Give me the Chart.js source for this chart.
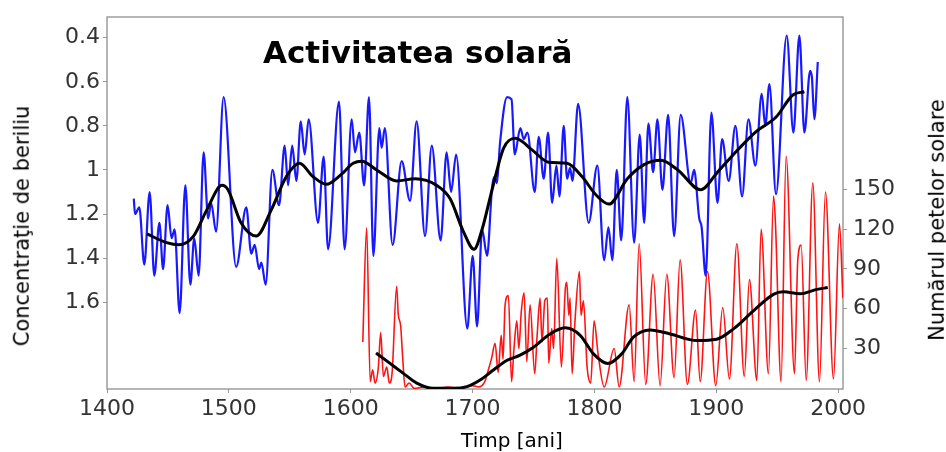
<!DOCTYPE html>
<html><head><meta charset="utf-8">
<script src="https://cdn.jsdelivr.net/npm/chart.js@4/dist/chart.umd.min.js"></script>
<style>
html,body{margin:0;padding:0;background:#fff;}
#wrap{position:relative;width:946px;height:452px;overflow:hidden;}
canvas{position:absolute;left:0;top:0;}
.t{position:absolute;white-space:nowrap;font-family:"DejaVu Sans";color:#000;line-height:1.164;}
</style></head><body>
<div id="wrap">
<canvas id="c" width="946" height="452"></canvas>
<div class="t" style="left:263px;top:34px;font-size:31px;font-weight:bold;">Activitatea solară</div>
<div class="t" style="left:512px;top:429px;font-size:20px;transform:translateX(-50%);">Timp [ani]</div>
<div class="t" style="left:22px;top:226px;font-size:21px;transform:translate(-50%,-50%) rotate(-90deg);">Concentraţie de beriliu</div>
<div class="t" style="left:937px;top:220px;font-size:21px;transform:translate(-50%,-50%) rotate(-90deg);">Numărul petelor solare</div>
</div>
<script>
const xTickValues = [1400,1500,1600,1700,1800,1900,2000];
const leftTickValues = [0.4,0.6,0.8,1,1.2,1.4,1.6];
const rightTickValues = [30,60,90,120,150];

const berylYears = [1422,1423,1426.5,1430.6,1435,1438.8,1443,1446,1449.7,1453,1455.5,1459.6,1464.3,1468.4,1471.6,1475.2,1479.3,1483,1485.5,1489.5,1495.7,1506,1514.3,1518.4,1521.2,1524.8,1526.7,1530.2,1535.7,1541.2,1545.8,1548.6,1552,1555.4,1559,1562.2,1565.5,1573.2,1577.8,1581.4,1590.4,1595,1600.8,1603.5,1607,1611,1615,1618.6,1623.5,1625.4,1628,1634.4,1641.8,1648.7,1654.1,1661,1666.5,1673.8,1678.7,1682.4,1686.5,1695.7,1700.1,1703.7,1707.8,1711.9,1716,1718,1720,1722.5,1728.3,1732,1734.6,1739.2,1742,1745,1751,1754.3,1758.4,1762,1765.3,1768.8,1771.3,1774.8,1777.6,1780,1782,1786.6,1795.3,1802.4,1808,1811.5,1814.7,1818.3,1822,1827,1832.6,1837.2,1840.8,1844.3,1848.2,1851.7,1855.8,1860.5,1865.4,1870.8,1879,1881.8,1886,1888,1891.3,1896,1901,1904.8,1910.2,1915.7,1921.2,1926.4,1932.1,1937.3,1940.2,1943.6,1949,1957.8,1963.3,1968.2,1972.3,1977,1978.5,1980.5,1983.3];
const berylValues = [1.13,1.20,1.17,1.43,1.10,1.48,1.24,1.45,1.16,1.31,1.27,1.65,1.07,1.52,1.31,1.48,0.92,1.22,1.15,1.28,0.67,1.44,1.17,1.38,1.34,1.45,1.42,1.52,1.00,1.16,0.89,1.07,0.89,1.05,0.78,0.93,0.77,1.24,0.94,1.36,0.69,1.36,0.77,0.92,0.83,1.07,0.67,1.39,0.81,0.90,0.81,1.34,0.96,1.14,0.78,1.30,0.89,1.32,0.92,1.10,0.93,1.72,1.39,1.71,1.27,1.39,1.08,1.03,1.06,0.88,0.67,0.68,0.93,0.81,0.86,0.83,1.10,0.85,1.04,0.83,1.15,0.98,1.12,0.80,1.04,0.99,1.05,0.70,1.24,0.98,1.41,1.26,1.41,1.00,1.32,0.67,1.33,0.84,1.24,0.79,1.01,0.77,1.09,0.75,1.30,0.75,1.06,1.00,1.22,1.26,1.48,0.74,1.15,0.86,1.05,0.80,1.12,0.77,0.98,0.655,0.80,0.61,1.11,0.39,0.83,0.39,0.83,0.55,0.58,0.77,0.51];

const berylTrendYears = [1432.8,1449,1458.8,1471,1482,1494.4,1499.3,1510,1522.5,1534.9,1547.2,1558,1569,1580,1592.3,1602,1609,1621.3,1637.8,1652.8,1670.6,1681.5,1692.5,1701.2,1707.8,1716,1725.6,1735.2,1749,1762.4,1777.5,1789.8,1800.8,1812,1827,1840.8,1854.4,1868,1887.2,1901,1916.4,1932.7,1949.1,1962.8,1972.3];
const berylTrendValues = [1.29,1.33,1.34,1.30,1.18,1.07,1.09,1.24,1.30,1.18,1.03,0.97,1.03,1.065,1.02,0.97,0.96,1.00,1.05,1.04,1.07,1.13,1.28,1.36,1.27,1.09,0.90,0.856,0.91,0.965,0.97,1.03,1.11,1.155,1.04,0.976,0.956,0.998,1.09,1.01,0.916,0.826,0.76,0.66,0.645];

const spotYears = [1609.9,1613.1,1616,1618,1620,1622.7,1624.6,1626.8,1629.6,1631.7,1634,1637.7,1639,1641,1642.6,1644.6,1648,1652,1660,1670,1680,1690,1700,1705,1710,1713,1715.7,1718.5,1721,1723.5,1725,1726.7,1729.4,1732,1734,1736.3,1738,1740,1742.3,1744.5,1747.2,1751,1753,1755.4,1757,1759.3,1761.4,1762.5,1765,1766.5,1769.1,1772.9,1776.2,1777.3,1779,1780,1781.7,1784,1787.7,1789,1791,1794,1797,1799.7,1803,1808,1816.2,1820.3,1828.5,1832.6,1836.7,1842.1,1848.2,1853.9,1859.4,1865.4,1870.3,1876.3,1883,1886.8,1892.8,1899.6,1905.3,1910.8,1916.9,1923,1927.2,1933.3,1936.8,1942.8,1947,1948.5,1953.2,1957.3,1964.2,1966.9,1969.7,1973.8,1979.2,1984.7,1989.6,1996.2,2001.1,2003.9];
const spotValues = [35,121,5,14,4,16,42,9,16,4,12,77,56,47,24,1,4,0,1,0,1,0,2,1,5,14,23,34,12,40,22,63,70,5,30,51,30,58,72,20,63,11,40,68,35,66,68,19,45,30,98,16,76,80,55,68,11,50,88,55,66,16,4,51,26,1,30,1,63,5,109,3,86,2,86,8,97,3,59,5,88,2,61,7,109,9,82,6,120,11,145,126,5,175,11,97,108,6,155,5,148,7,124,68];

const spotTrendYears = [1620.8,1632.3,1643.2,1654.2,1667.8,1684.2,1695.3,1706.2,1717.1,1728,1739,1750,1763.6,1776,1788.3,1799.2,1811,1822.4,1832,1845.7,1862.2,1884,1900.4,1914.1,1930.5,1946.9,1955.1,1968.8,1982.5,1991.5];
const spotTrendValues = [26.7,18.8,11.3,3.9,0,0,1.3,6.3,13.8,21,25,31,41,45.6,40,26,18.8,26,38.6,44,41,36,37,44.8,58.4,70.9,72.8,71.3,74.6,76];

const pts = (xs, ys) => xs.map((x, i) => ({x: x, y: ys[i]}));
const tickFont = {family: 'DejaVu Sans', size: 22, lineHeight: 1};

const framePlugin = {
  id: 'frame',
  beforeDatasetsDraw(chart) {
    const {ctx, chartArea: a} = chart;
    ctx.save();
    ctx.strokeStyle = '#8e8e8e';
    ctx.lineWidth = 1.3;
    ctx.strokeRect(a.left, a.top, a.right - a.left, a.bottom - a.top);
    ctx.restore();
  }
};

new Chart(document.getElementById('c'), {
  type: 'line',
  data: {
    datasets: [
      {data: pts(berylTrendYears, berylTrendValues), yAxisID: 'yL', borderColor: '#000', borderWidth: 3, pointRadius: 0, cubicInterpolationMode: 'monotone', order: 0},
      {data: pts(spotTrendYears, spotTrendValues), yAxisID: 'yR', borderColor: '#000', borderWidth: 3, pointRadius: 0, cubicInterpolationMode: 'monotone', order: 0},
      {data: pts(berylYears, berylValues), yAxisID: 'yL', borderColor: 'rgb(25,25,255)', borderWidth: 2.2, pointRadius: 0, cubicInterpolationMode: 'monotone', order: 1},
      {data: pts(spotYears, spotValues), yAxisID: 'yR', borderColor: 'rgb(255,20,20)', borderWidth: 1.6, pointRadius: 0, cubicInterpolationMode: 'monotone', order: 2}
    ]
  },
  options: {
    responsive: false,
    animation: false,
    devicePixelRatio: 1,
    layout: {padding: {top: 12, left: 0, right: 0, bottom: 0}},
    plugins: {legend: {display: false}, tooltip: {enabled: false}, title: {display: false}},
    scales: {
      x: {
        type: 'linear', min: 1400, max: 2004,
        afterBuildTicks: s => { s.ticks = xTickValues.map(v => ({value: v})); },
        afterFit: s => { s.height = 63; },
        ticks: {font: tickFont, color: '#333', padding: 5, maxRotation: 0, autoSkip: false, callback: v => String(v)},
        grid: {drawOnChartArea: false, tickLength: 4, color: '#999'},
        border: {display: false}
      },
      yL: {
        type: 'linear', position: 'left', reverse: true, min: 0.306, max: 1.994,
        afterBuildTicks: s => { s.ticks = leftTickValues.map(v => ({value: v})); },
        afterFit: s => { s.width = 107; },
        ticks: {font: tickFont, color: '#333', padding: 3, autoSkip: false, callback: v => String(v)},
        grid: {drawOnChartArea: false, tickLength: 4, color: '#999'},
        border: {display: false}
      },
      yR: {
        type: 'linear', position: 'right', min: -0.5, max: 280,
        afterBuildTicks: s => { s.ticks = rightTickValues.map(v => ({value: v})); },
        afterFit: s => { s.width = 103; },
        ticks: {font: tickFont, color: '#333', padding: 6, autoSkip: false, callback: v => String(v)},
        grid: {drawOnChartArea: false, tickLength: 4, color: '#999'},
        border: {display: false}
      }
    }
  },
  plugins: [framePlugin]
});
</script>
</body></html>
